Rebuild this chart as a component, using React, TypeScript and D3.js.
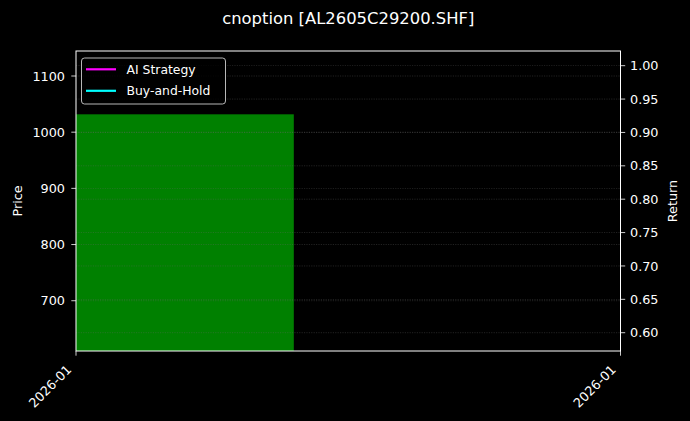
import React, { useEffect } from "react";
import * as d3 from "d3";

const W = 690;
const H = 421;
const title = "cnoption [AL2605C29200.SHF]";
const xDomainDates = ["2026-01-05", "2026-01-10"];
const xTickDates = ["2026-01-05", "2026-01-10"];
const xTickLabels = ["2026-01", "2026-01"];
const priceDomain = [610.5, 1144.5];
const priceTicks = [700, 800, 900, 1000, 1100];
const returnDomain = [0.5726, 1.022];
const returnTicks = [0.6, 0.65, 0.7, 0.75, 0.8, 0.85, 0.9, 0.95, 1.0];
const holdStart = ["2026-01-05"];
const holdEnd = ["2026-01-07"];
const holdPrice = [1031.8];
const seriesNames = ["AI Strategy", "Buy-and-Hold"];
const seriesColors = ["#ff00ff", "#00ffff"];

const font = "DejaVu Sans, sans-serif";

export default function App() {
  useEffect(() => {
    document.body.style.margin = "0";
    document.body.style.background = "#000";
  }, []);

  const left = 76,
    right = 620.5,
    top = 51,
    bottom = 351;
  const parse = d3.utcParse("%Y-%m-%d");
  const x = d3
    .scaleUtc()
    .domain(xDomainDates.map((d) => parse(d) as Date))
    .range([left, right]);
  const yL = d3.scaleLinear().domain(priceDomain).range([bottom, top]);
  const yR = d3.scaleLinear().domain(returnDomain).range([bottom, top]);

  const gridStyle = {
    stroke: "#6a6a6a",
    strokeWidth: 0.6,
    strokeDasharray: "1.2,1.2",
    opacity: 0.55,
  };

  const fs = 12.8;
  const tickLen = 4.7;
  const asc = 9.3,
    desc = 2.6;

  return (
    <svg width={W} height={H} style={{ display: "block", background: "#000" }} fontFamily={font}>
      <rect x={0} y={0} width={W} height={H} fill="#000" />
      {/* bars */}
      {holdStart.map((s, i) => {
        const x0 = x(parse(s) as Date);
        const x1 = x(parse(holdEnd[i]) as Date);
        const yt = yL(holdPrice[i]);
        return <rect key={i} x={x0} y={yt} width={x1 - x0} height={bottom - yt} fill="#008000" />;
      })}
      {/* grid */}
      {priceTicks.map((t) => (
        <line key={"gl" + t} x1={left} x2={right} y1={yL(t)} y2={yL(t)} {...gridStyle} />
      ))}
      {returnTicks.map((t) => (
        <line key={"gr" + t} x1={left} x2={right} y1={yR(t)} y2={yR(t)} {...gridStyle} />
      ))}
      {/* frame */}
      <rect x={left} y={top} width={right - left} height={bottom - top} fill="none" stroke="#fff" strokeWidth={1} />
      {/* left ticks */}
      {priceTicks.map((t) => (
        <g key={"tl" + t}>
          <line x1={left - tickLen} x2={left} y1={yL(t)} y2={yL(t)} stroke="#fff" strokeWidth={0.8} />
          <text x={65} y={yL(t)} dy="0.36em" textAnchor="end" fontSize={fs} fill="#fff">
            {t}
          </text>
        </g>
      ))}
      {/* right ticks */}
      {returnTicks.map((t) => (
        <g key={"tr" + t}>
          <line x1={right} x2={right + tickLen} y1={yR(t)} y2={yR(t)} stroke="#fff" strokeWidth={0.8} />
          <text x={630} y={yR(t)} dy="0.36em" textAnchor="start" fontSize={fs} fill="#fff">
            {d3.format(".2f")(t)}
          </text>
        </g>
      ))}
      {/* x ticks */}
      {xTickDates.map((d, i) => {
        const xx = x(parse(d) as Date);
        const ax = xx - 2 - desc * 0.707;
        const ay = bottom + 13 + asc * 0.707;
        return (
          <g key={"tx" + i}>
            <line x1={xx} x2={xx} y1={bottom} y2={bottom + tickLen} stroke="#fff" strokeWidth={0.8} />
            <text
              transform={`translate(${ax},${ay}) rotate(-45)`}
              textAnchor="end"
              fontSize={fs}
              fill="#fff"
            >
              {xTickLabels[i]}
            </text>
          </g>
        );
      })}
      {/* axis labels */}
      <text transform={`translate(21.5,${(top + bottom) / 2}) rotate(-90)`} textAnchor="middle" fontSize={fs} fill="#fff">
        Price
      </text>
      <text transform={`translate(677,${(top + bottom) / 2}) rotate(-90)`} textAnchor="middle" fontSize={fs} fill="#fff">
        Return
      </text>
      {/* title */}
      <text x={(left + right) / 2} y={23.5} textAnchor="middle" fontSize={16.4} fill="#fff">
        {title}
      </text>
      {/* legend */}
      <rect x={81.5} y={58} width={144} height={46} rx={3} fill="#000" fillOpacity={0.8} stroke="#cccccc" strokeWidth={0.9} />
      {seriesNames.map((n, i) => {
        const ly = 69.3 + i * 21.5;
        return (
          <g key={n}>
            <line x1={86} x2={116} y1={ly} y2={ly} stroke={seriesColors[i]} strokeWidth={2.2} />
            <text x={126.5} y={ly} dy="0.36em" fontSize={12.4} fill="#fff">
              {n}
            </text>
          </g>
        );
      })}
    </svg>
  );
}
